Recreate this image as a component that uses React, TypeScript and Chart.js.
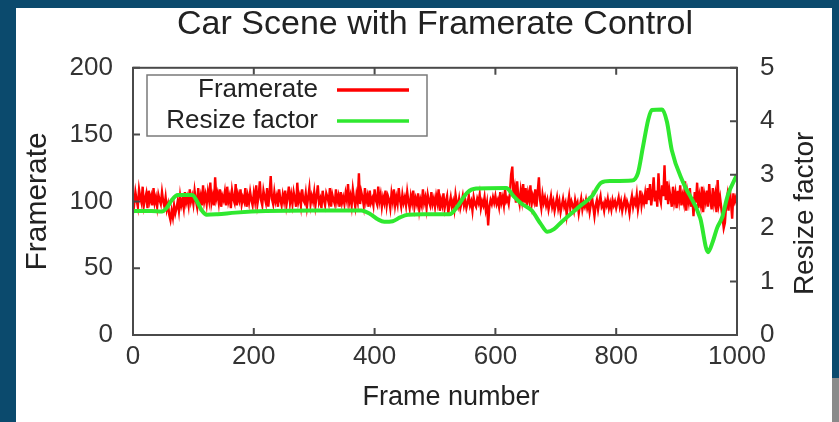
import { useEffect, useRef } from 'react';
import { Chart, registerables } from 'chart.js';

Chart.register(...registerables);

const TITLE = 'Car Scene with Framerate Control';
const X_TITLE = 'Frame number';
const Y_TITLE = 'Framerate';
const Y2_TITLE = 'Resize factor';

const X_TICKS = [0, 200, 400, 600, 800, 1000];
const Y_TICKS = [0, 50, 100, 150, 200];
const Y2_TICKS = [0, 1, 2, 3, 4, 5];

// framerate sampled every FRAME_STEP frames (frames 0..1000), 25 values per 50 frames
const FRAME_STEP = 2;
const framerate = [
  104, 98, 107, 101, 96, 109, 103, 99, 111, 97, 102, 106, 95, 108, 100, 104, 97, 110, 99, 103, 96, 105, 101, 98, 107,
  100, 96, 103, 94, 98, 90, 86, 93, 88, 97, 91, 95, 100, 93, 104, 97, 101, 95, 107, 99, 103, 97, 109, 100, 104,
  98, 108, 101, 96, 110, 99, 104, 97, 112, 100, 105, 98, 107, 101, 114, 99, 104, 97, 118, 102, 106, 99, 109, 96, 104,
  101, 107, 97, 111, 100, 104, 95, 108, 102, 99, 113, 97, 105, 101, 109, 98, 103, 100, 110, 96, 104, 99, 107, 101, 97,
  106, 100, 112, 98, 104, 115, 101, 97, 108, 103, 99, 110, 96, 105, 119, 102, 98, 107, 100, 104, 96, 109, 101, 97, 105,
  100, 108, 97, 103, 111, 99, 105, 98, 107, 102, 96, 114, 100, 104, 97, 109, 101, 99, 106, 96, 103, 110, 98, 104, 100,
  107, 97, 104, 112, 99, 102, 95, 108, 101, 97, 106, 103, 99, 110, 96, 105, 101, 98, 109, 100, 104, 96, 107, 99, 103,
  98, 106, 101, 113, 99, 104, 97, 109, 102, 96, 105, 100, 121, 98, 107, 103, 97, 110, 100, 104, 96, 108, 99, 102, 97,
  109, 101, 98, 111, 100, 105, 96, 103, 99, 108, 97, 104, 101, 95, 106, 100, 109, 97, 103, 98, 110, 101, 96, 105, 99,
  103, 97, 107, 100, 95, 104, 99, 108, 96, 102, 98, 106, 94, 101, 97, 109, 99, 103, 95, 105, 100, 97, 107, 98, 102,
  96, 104, 99, 109, 93, 101, 97, 106, 95, 100, 104, 91, 98, 103, 96, 100, 94, 105, 99, 96, 102, 95, 99, 104, 97,
  101, 95, 99, 104, 97, 100, 93, 103, 98, 96, 102, 99, 105, 95, 100, 97, 103, 94, 99, 82, 96, 101, 98, 103, 99,
  104, 98, 101, 96, 107, 99, 103, 97, 109, 100, 102, 98, 106, 120, 126, 104, 110, 99, 115, 103, 98, 108, 101, 113, 99,
  110, 97, 106, 101, 112, 98, 104, 100, 109, 96, 107, 118, 101, 95, 105, 99, 103, 97, 101, 94, 99, 104, 96, 100, 93,
  98, 103, 95, 100, 92, 97, 102, 96, 99, 90, 98, 104, 95, 100, 97, 93, 101, 96, 99, 91, 97, 102, 94, 99, 96,
  101, 95, 99, 92, 98, 103, 96, 89, 97, 101, 94, 100, 104, 96, 98, 93, 100, 97, 102, 95, 99, 94, 101, 97, 100,
  95, 99, 103, 96, 100, 93, 98, 102, 95, 100, 97, 91, 99, 104, 96, 101, 98, 105, 94, 100, 108, 97, 103, 99, 106,
  98, 110, 101, 113, 97, 105, 118, 100, 108, 96, 121, 103, 99, 112, 104, 127, 101, 115, 98, 109, 103, 96, 111, 100, 106,
  95, 108, 101, 112, 97, 104, 99, 115, 93, 106, 100, 110, 96, 103, 89, 107, 99, 114, 95, 104, 98, 111, 92, 105, 100,
  108, 96, 113, 101, 94, 110, 99, 105, 92, 116, 98, 103, 95, 88, 80, 84, 97, 104, 93, 110, 99, 87, 106, 100, 103,
  97,
];

const resizeFrames = [
  0, 30, 48, 56, 64, 74, 98, 106, 114, 122, 140, 170, 220, 300, 378, 392, 406, 416, 430, 442,
  455, 480, 524, 538, 553, 568, 618, 630, 643, 660, 675, 686, 697, 710, 742, 760, 775, 790, 826, 836,
  844, 853, 859, 876, 884, 892, 911, 939, 952, 960, 967, 975, 985, 1000,
];
const resizeFactor = [
  2.32, 2.32, 2.31, 2.38, 2.52, 2.62, 2.62, 2.5, 2.33, 2.25, 2.26, 2.29, 2.32, 2.33, 2.33, 2.27, 2.16, 2.12, 2.13, 2.2,
  2.25, 2.26, 2.26, 2.42, 2.66, 2.74, 2.75, 2.6, 2.46, 2.33, 2.08, 1.93, 1.98, 2.12, 2.43, 2.6, 2.85, 2.88, 2.89, 3.03,
  3.5, 4.03, 4.21, 4.22, 3.99, 3.46, 2.85, 2.19, 1.55, 1.75, 2.0, 2.19, 2.62, 3.0,
];

const FONT = "'Liberation Sans', Arial, Helvetica, sans-serif";
const RED = '#ff0000';
const GREEN = '#2fe82f';
const AXIS = '#4a4a4a';

export default function App() {
  const ref = useRef<HTMLCanvasElement>(null);

  useEffect(() => {
    document.body.style.margin = '0';
    const canvas = ref.current!;

    const redData = framerate.map((v, i) => ({ x: i * FRAME_STEP, y: v }));
    const greenData = resizeFrames.map((f, i) => ({ x: f, y: resizeFactor[i] }));

    const bgPlugin = {
      id: 'bg',
      beforeDraw(chart: any) {
        const c = chart.ctx;
        c.save();
        c.fillStyle = '#0b4a6d';
        c.fillRect(0, 0, chart.width, chart.height);
        c.fillStyle = '#ffffff';
        c.fillRect(16, 8, 816, 414);
        c.fillStyle = '#8a8a8a';
        c.fillRect(832, 378, 7, 44);
        c.restore();
      },
    };

    const framePlugin = {
      id: 'frame',
      afterDatasetsDraw(chart: any) {
        const c = chart.ctx;
        const { left, right, top, bottom } = chart.chartArea;
        const xs = chart.scales.x;
        const ys = chart.scales.y;
        const y2 = chart.scales.y2;
        const TL = 7;
        c.save();
        c.strokeStyle = AXIS;
        c.lineWidth = 2;
        c.strokeRect(left, top, right - left, bottom - top);
        c.beginPath();
        X_TICKS.forEach((v) => {
          const px = xs.getPixelForValue(v);
          c.moveTo(px, bottom);
          c.lineTo(px, bottom - TL);
          c.moveTo(px, top);
          c.lineTo(px, top + TL);
        });
        Y_TICKS.forEach((v) => {
          const py = ys.getPixelForValue(v);
          c.moveTo(left, py);
          c.lineTo(left + TL, py);
        });
        Y2_TICKS.forEach((v) => {
          const py = y2.getPixelForValue(v);
          c.moveTo(right, py);
          c.lineTo(right - TL, py);
        });
        c.stroke();

        // x axis title
        c.fillStyle = '#222';
        c.font = `27px ${FONT}`;
        c.textAlign = 'center';
        c.textBaseline = 'middle';
        c.fillText(X_TITLE, (left + right) / 2 + 16, 398);

        // right axis title, reading bottom-to-top
        c.font = `28px ${FONT}`;
        c.translate(805, (top + bottom) / 2 + 12);
        c.rotate(-Math.PI / 2);
        c.fillText(Y2_TITLE, 0, 0);
        c.restore();

        // legend (gnuplot style key)
        c.save();
        c.strokeStyle = '#7a7a7a';
        c.lineWidth = 1.5;
        c.strokeRect(147, 75, 280, 61);
        c.font = `26px ${FONT}`;
        c.textAlign = 'right';
        c.textBaseline = 'middle';
        chart.data.datasets.forEach((ds: any, i: number) => {
          const y = 90 + i * 31;
          c.fillStyle = '#222';
          c.fillText(ds.label, 318, y);
          c.strokeStyle = ds.borderColor;
          c.lineWidth = 3.5;
          c.beginPath();
          c.moveTo(337, y);
          c.lineTo(409, y);
          c.stroke();
        });
        c.restore();
      },
    };

    const tickFont = { family: FONT, size: 26 };

    const chart = new Chart(canvas, {
      type: 'line',
      data: {
        datasets: [
          {
            label: 'Framerate',
            data: redData,
            borderColor: RED,
            backgroundColor: RED,
            borderWidth: 2.4,
            pointRadius: 0,
            yAxisID: 'y',
            order: 1,
            tension: 0,
          },
          {
            label: 'Resize factor',
            data: greenData,
            borderColor: GREEN,
            backgroundColor: GREEN,
            borderWidth: 4,
            pointRadius: 0,
            yAxisID: 'y2',
            order: 0,
            cubicInterpolationMode: 'monotone',
          },
        ],
      },
      options: {
        animation: false,
        responsive: false,
        maintainAspectRatio: false,
        layout: { padding: 0 },
        plugins: {
          legend: { display: false },
          tooltip: { enabled: false },
          title: {
            display: true,
            text: TITLE,
            fullSize: false,
            color: '#222',
            font: { family: FONT, size: 34, weight: 'normal' },
            padding: { top: 4, bottom: 23 },
          },
        },
        scales: {
          x: {
            type: 'linear',
            min: 0,
            max: 1000,
            afterBuildTicks: (s: any) => {
              s.ticks = X_TICKS.map((v) => ({ value: v }));
            },
            ticks: {
              color: '#333',
              font: tickFont,
              padding: 6,
              maxRotation: 0,
              autoSkip: false,
              callback: (v: any) => String(v),
            },
            grid: { display: false, drawTicks: false },
            border: { display: false },
            afterFit: (s: any) => {
              s.height = 87;
            },
          },
          y: {
            type: 'linear',
            position: 'left',
            min: 0,
            max: 200,
            afterBuildTicks: (s: any) => {
              s.ticks = Y_TICKS.map((v) => ({ value: v }));
            },
            ticks: {
              color: '#333',
              font: tickFont,
              padding: 20,
              callback: (v: any) => String(v),
            },
            grid: { display: false, drawTicks: false },
            border: { display: false },
            title: {
              display: true,
              text: Y_TITLE,
              color: '#222',
              font: { family: FONT, size: 30 },
              padding: { top: 20, bottom: 0 },
            },
            afterFit: (s: any) => {
              s.width = 133;
            },
          },
          y2: {
            type: 'linear',
            position: 'right',
            min: 0,
            max: 5,
            afterBuildTicks: (s: any) => {
              s.ticks = Y2_TICKS.map((v) => ({ value: v }));
            },
            ticks: {
              color: '#333',
              font: tickFont,
              padding: 23,
              callback: (v: any) => String(v),
            },
            grid: { display: false, drawTicks: false },
            border: { display: false },
            afterFit: (s: any) => {
              s.width = 102;
            },
          },
        },
      },
      plugins: [bgPlugin, framePlugin],
    } as any);

    return () => chart.destroy();
  }, []);

  return <canvas ref={ref} width={839} height={422} style={{ display: 'block' }} />;
}
